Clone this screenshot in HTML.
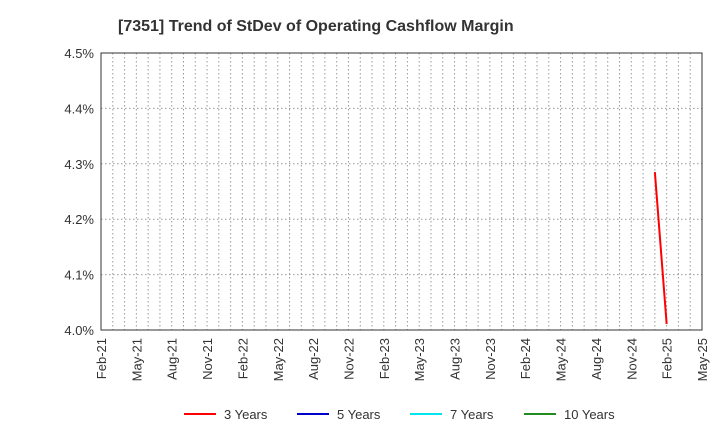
<!DOCTYPE html>
<html><head><meta charset="utf-8"><style>
body{margin:0;background:#fff;font-family:"Liberation Sans",sans-serif}
</style></head><body>
<svg id="c" width="720" height="440" xmlns="http://www.w3.org/2000/svg"></svg>
<script>
const months=["Feb-21","May-21","Aug-21","Nov-21","Feb-22","May-22","Aug-22","Nov-22","Feb-23","May-23","Aug-23","Nov-23","Feb-24","May-24","Aug-24","Nov-24","Feb-25","May-25"];
const yTicks=[4.0,4.1,4.2,4.3,4.4,4.5];
const s3Idx=[47,48];
const s3Val=[4.285,4.011];
const legendNames=["3 Years","5 Years","7 Years","10 Years"];
const legendColors=["#ff0000","#0000cc","#00e5ee","#228b22"];
const L=101,R=702,T=53,B=330,N=51;
const X=i=>L+(R-L)*i/N;
const Y=v=>B-(v-4.0)/0.5*(B-T);
const svg=document.getElementById('c');
const NS="http://www.w3.org/2000/svg";
function mk(t,a,p){const e=document.createElementNS(NS,t);for(const k in a)e.setAttribute(k,a[k]);(p||svg).appendChild(e);return e;}
let t=mk('text',{x:118,y:31,'text-anchor':'start','font-size':16,'font-weight':'bold',fill:'#333'});t.textContent="[7351]  Trend of StDev of Operating Cashflow Margin";


for(let i=1;i<N;i++){const l=mk('line',{x1:X(i),x2:X(i),y1:T,y2:B,stroke:'#999','stroke-dasharray':'1.5,2.5','stroke-width':1});

}
yTicks.forEach(v=>{if(v>4.0&&v<4.5){const l=mk('line',{x1:L,x2:R,y1:Y(v),y2:Y(v),stroke:'#999','stroke-dasharray':'1.5,2.5'});

}
const tx=mk('text',{x:L-7,y:Y(v)+5,'text-anchor':'end','font-size':13,fill:'#333'});tx.textContent=v.toFixed(1)+"%";

});
months.forEach((m,k)=>{const x=X(k*3);const tx=mk('text',{transform:`translate(${x+5},${B+8}) rotate(-90)`,'text-anchor':'end','font-size':13,fill:'#333'});tx.textContent=m;

});
const f=mk('rect',{x:L,y:T,width:R-L,height:B-T,fill:'none',stroke:'#333','stroke-width':1});


const pl=mk('polyline',{points:s3Idx.map((i,k)=>X(i)+','+Y(s3Val[k])).join(' '),fill:'none',stroke:'#ff0000','stroke-width':2});


const lx=[184,297,410,524];
legendNames.forEach((n,k)=>{const g=mk('g',{});


mk('line',{x1:lx[k],x2:lx[k]+32,y1:414,y2:414,stroke:legendColors[k],'stroke-width':2},g);
const tx=mk('text',{x:lx[k]+40,y:419,'font-size':13,fill:'#333'},g);tx.textContent=n;});
</script>
</body></html>
